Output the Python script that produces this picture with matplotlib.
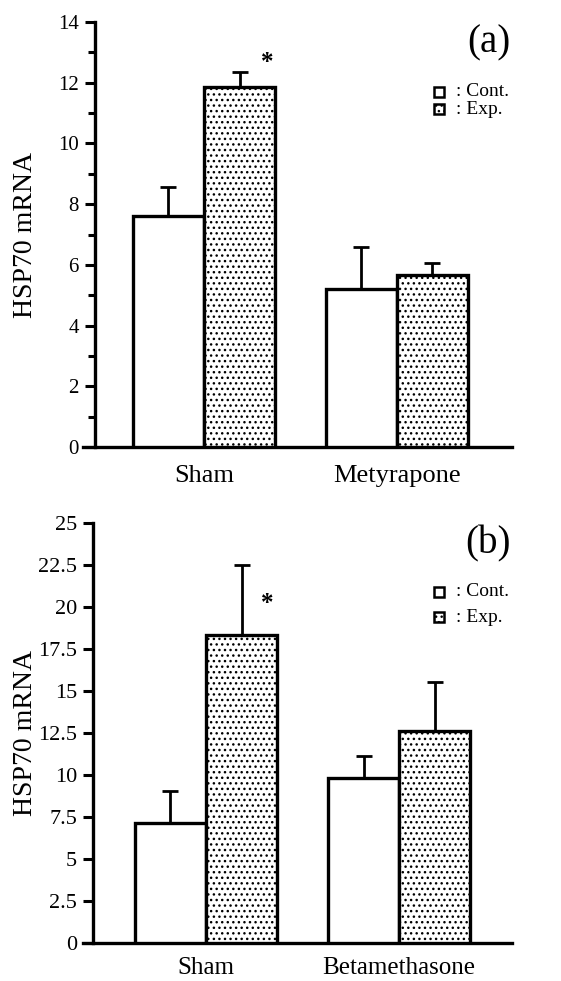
import numpy as np
import matplotlib
matplotlib.use("Agg")
import matplotlib.pyplot as plt
from matplotlib.patches import Rectangle

plt.rcParams['font.family'] = ['Liberation Serif', 'DejaVu Serif']
plt.rcParams['hatch.linewidth'] = 1.0

# panel (a)
groups_a = ["Sham", "Metyrapone"]
cont_a = [7.6, 5.2]
cont_err_a = [0.95, 1.4]
exp_a = [11.85, 5.65]
exp_err_a = [0.5, 0.42]

# panel (b)
groups_b = ["Sham", "Betamethasone"]
cont_b = [7.15, 9.85]
cont_err_b = [1.9, 1.3]
exp_b = [18.35, 12.6]
exp_err_b = [4.15, 2.95]

W, H = 561, 981
fig = plt.figure(figsize=(W / 100, H / 100), dpi=100)


def px_axes(x0, y0, x1, y1):
    # pixel box (top-left origin) -> figure axes
    return fig.add_axes([x0 / W, 1 - y1 / H, (x1 - x0) / W, (y1 - y0) / H])


def panel(ax, groups, cont, cerr, exp, eerr, ymax, major, minor, xlim, yspine,
          tag, star, leg_y, leg_dy, tick_fs, cat_fs, cat_pad):
    w = 0.368
    x = np.arange(len(groups))
    ax.bar(x - w / 2, cont, w, color='white', edgecolor='black', linewidth=2.4, zorder=3)
    ax.bar(x + w / 2, exp, w, color='white', edgecolor='black', linewidth=2.4,
           hatch='...', zorder=3)
    ax.errorbar(x - w / 2, cont, yerr=[np.zeros(len(cont)), cerr], fmt='none',
                ecolor='black', elinewidth=2, capsize=6, capthick=2, zorder=4)
    ax.errorbar(x + w / 2, exp, yerr=[np.zeros(len(exp)), eerr], fmt='none',
                ecolor='black', elinewidth=2, capsize=6, capthick=2, zorder=4)

    ax.set_xlim(*xlim)
    ax.set_ylim(0, ymax)
    for s in ['top', 'right']:
        ax.spines[s].set_visible(False)
    ax.spines['left'].set_position(('data', yspine))
    ax.spines['left'].set_bounds(0, ymax)
    ax.spines['left'].set_linewidth(2.4)
    ax.spines['bottom'].set_linewidth(2.4)

    ax.set_yticks(major)
    ax.set_yticklabels([("%g" % v) for v in major], fontsize=tick_fs)
    if minor is not None:
        ax.set_yticks(minor, minor=True)
    ax.tick_params(axis='y', which='major', length=7.5, width=2.2, pad=4)
    ax.tick_params(axis='y', which='minor', length=5, width=2.2)
    ax.set_xticks(x)
    ax.set_xticklabels(groups, fontsize=cat_fs)
    ax.tick_params(axis='x', length=0, pad=cat_pad)

    ax.set_ylabel("HSP70 mRNA", fontsize=20)
    ax.yaxis.set_label_coords(-0.105, 0.5)

    ax.text(0.945, 0.95, tag, transform=ax.transAxes, fontsize=28,
            ha='center', va='center')
    ax.text(star[0], star[1], "*", fontsize=18, ha='center', va='center',
            fontweight='bold')

    # legend
    for i, (lab, hat) in enumerate([(": Cont.", None), (": Exp.", '...')]):
        yy = leg_y + i * leg_dy
        sq = Rectangle((434 / W, 1 - (yy + 5) / H), 10 / W, 10 / H,
                       transform=fig.transFigure, facecolor='white',
                       edgecolor='black', linewidth=1.8, hatch=hat)
        fig.add_artist(sq)
        fig.text(456 / W, 1 - yy / H, lab, fontsize=14, ha='left', va='center')


ax1 = px_axes(83, 22, 512, 447)
panel(ax1, groups_a, cont_a, cont_err_a, exp_a, exp_err_a, 14,
      np.arange(0, 15, 2), np.arange(1, 14, 2), (-0.627, 1.596), -0.565,
      "(a)", (0.33, 12.68), 92, 17, 15, 19, 13)

ax2 = px_axes(83, 523, 512, 943)
panel(ax2, groups_b, cont_b, cont_err_b, exp_b, exp_err_b, 25,
      np.arange(0, 25.1, 2.5), None, (-0.637, 1.585), -0.585,
      "(b)", (0.316, 20.2), 592, 25, 16, 18, 10)

fig.savefig("out.png", dpi=100)
